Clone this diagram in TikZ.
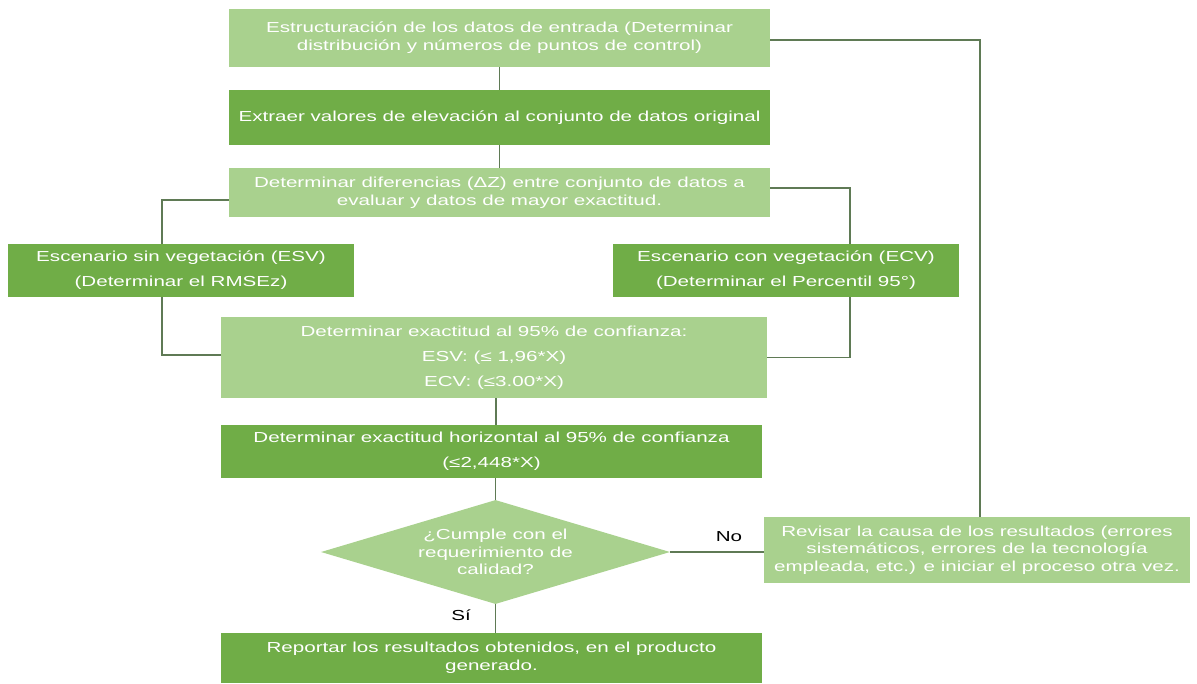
\documentclass[tikz,border=0pt]{standalone}
\usepackage{fontspec}
\setmainfont[FakeStretch=1.42]{Liberation Sans}
\usetikzlibrary{shapes.geometric,calc}
\definecolor{lightgreen}{HTML}{A9D18E}
\definecolor{darkgreen}{HTML}{70AD47}
\definecolor{linkgreen}{HTML}{5F7A55}
\newcommand{\txt}[1]{\fontsize{14.5}{#1}\selectfont\lineskiplimit=-20pt}
\tikzset{
  box/.style={rectangle, inner sep=0pt, align=center, text=white, font=\txt{17.7}},
  lightbox/.style={box, fill=lightgreen},
  darkbox/.style={box, fill=darkgreen},
  wide/.style={font=\txt{25}},
  link/.style={draw=linkgreen, line width=1.3pt},
  tag/.style={font=\txt{17}, text=black}
}
\begin{document}
\begin{tikzpicture}[x=1pt, y=-1pt]
  \useasboundingbox (0,0) rectangle (1197,683);

  % main column
  \node[lightbox, minimum width=541pt, minimum height=58pt] (b1) at (499.5,38)
    {Estructuración de los datos de entrada (Determinar\\distribución y números de puntos de control)};
  \node[darkbox, minimum width=541pt, minimum height=55pt] (b2) at (499.5,117.5)
    {Extraer valores de elevación al conjunto de datos original};
  \node[lightbox, minimum width=541pt, minimum height=49pt] (b3) at (499.5,192.5)
    {Determinar diferencias (ΔZ) entre conjunto de datos a\\evaluar y datos de mayor exactitud.};

  % the two scenarios
  \node[darkbox, wide, minimum width=346pt, minimum height=53pt] (esv) at (181,270.5)
    {Escenario sin vegetación (ESV)\\(Determinar el RMSEz)};
  \node[darkbox, wide, minimum width=346pt, minimum height=53pt] (ecv) at (786,270.5)
    {Escenario con vegetación (ECV)\\(Determinar el Percentil 95°)};

  \node[lightbox, wide, minimum width=546pt, minimum height=81pt] (b4) at (494,357.5)
    {Determinar exactitud al 95\% de confianza:\\ESV: (≤ 1,96*X)\\ECV: (≤3.00*X)};
  \node[darkbox, wide, minimum width=541pt, minimum height=53pt] (b5) at (491.5,451.5)
    {Determinar exactitud horizontal al 95\% de confianza\\(≤2,448*X)};

  % decision
  \node[diamond, fill=lightgreen, inner sep=0pt, aspect=3.35, align=center, text=white,
        font=\txt{17.5}, minimum width=349pt, minimum height=104pt] (dia) at (495.5,552)
    {¿Cumple con el\\requerimiento de\\calidad?};

  \node[lightbox, font=\txt{17.5}, minimum width=426pt, minimum height=66pt] (rev) at (977,550)
    {Revisar la causa de los resultados (errores\\sistemáticos, errores de la tecnología\\empleada, etc.) e iniciar el proceso otra vez.};

  \node[darkbox, minimum width=541pt, minimum height=50pt] (b6) at (491.5,658)
    {Reportar los resultados obtenidos, en el producto\\generado.};

  % connectors
  \draw[link] (b1.south) -- (b2.north);
  \draw[link] (b2.south) -- (b3.north);
  \draw[link] ($(b3.west)+(0,7.5)$) -| ($(esv.north)+(-19,0)$);
  \draw[link] ($(b3.east)+(0,-4.5)$) -| ($(ecv.north)+(64,0)$);
  \draw[link] ($(esv.south)+(-19,0)$) |- ($(b4.west)+(0,-2.5)$);
  \draw[link] ($(ecv.south)+(64,0)$) |- (b4.east);
  \draw[link] ($(b4.south)+(2,0)$) -- ($(b5.north)+(4.5,0)$);
  \draw[link] (b5.south -| dia.north) -- (dia.north);
  \draw[link] (dia.east) -- (dia.east -| rev.west);
  \draw[link] ($(rev.north)+(3,0)$) |- ($(b1.east)+(0,2)$);
  \draw[link] (dia.south) -- (dia.south |- b6.north);

  % branch labels
  \node[tag] (no) at (729,537) {No};
  \node[tag] (si) at (461,615) {Sí};
\end{tikzpicture}
\end{document}
